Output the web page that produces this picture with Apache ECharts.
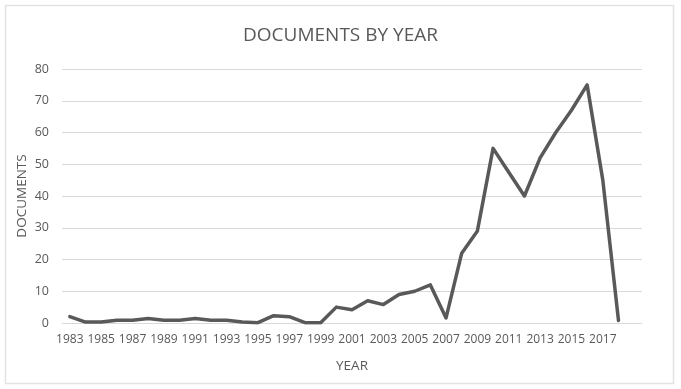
<!DOCTYPE html>
<html>
<head>
<meta charset="utf-8">
<script src="https://cdn.jsdelivr.net/npm/echarts@6/dist/echarts.min.js"></script>
<style>
html,body{margin:0;padding:0;background:#fff;}
#c{width:681px;height:389px;}
</style>
</head>
<body>
<div id="c"></div>
<script>
var years = ['1983','1984','1985','1986','1987','1988','1989','1990','1991','1992','1993','1994','1995','1996','1997','1998','1999','2000','2001','2002','2003','2004','2005','2006','2007','2008','2009','2010','2011','2012','2013','2014','2015','2016','2017','2018','2019'];
var documents = [2,0.3,0.3,0.9,0.9,1.4,0.9,0.9,1.4,0.9,0.9,0.3,0.1,2.3,2,0.1,0.1,5,4.2,7,5.8,9,10,12,1.6,22,29,55,47.5,40,52,60,67,75,45,0.8,null];
var yTicks = {min:0, max:80, interval:10};

var chart = echarts.init(document.getElementById('c'), null, {renderer:'canvas'});
var font = '"Open Sans", sans-serif';
chart.setOption({
  animation:false,
  title:{text:'DOCUMENTS BY YEAR', left:'center', top:21,
    textStyle:{fontFamily:font, fontSize:19, fontWeight:'normal', color:'#595959'}},
  graphic:[{type:'rect', shape:{x:5.5,y:5.5,width:668,height:378},
    style:{fill:'none', stroke:'#e3e3e3', lineWidth:1.5}, silent:true}],
  grid:{left:62, right:39, top:69, bottom:66},
  xAxis:{type:'category', data:years, boundaryGap:true,
    name:'YEAR', nameLocation:'middle', nameGap:36, nameMoveOverlap:false,
    nameTextStyle:{fontFamily:font, fontSize:13.5, color:'#595959'},
    axisLine:{show:true, lineStyle:{color:'#d9d9d9', width:1}},
    axisTick:{show:false},
    axisLabel:{interval:function(i){return i%2===0 && i<36;}, fontFamily:font, fontSize:12, color:'#595959', margin:11}},
  yAxis:{type:'value', min:yTicks.min, max:yTicks.max, interval:yTicks.interval,
    name:'DOCUMENTS', nameLocation:'middle', nameGap:33, nameRotate:90, nameMoveOverlap:false,
    nameTextStyle:{fontFamily:font, fontSize:13.5, color:'#595959'},
    axisLine:{show:false}, axisTick:{show:false},
    axisLabel:{fontFamily:font, fontSize:12.5, color:'#595959', margin:13},
    splitLine:{lineStyle:{color:'#d9d9d9', width:1}}},
  series:[{type:'line', data:documents, showSymbol:false, symbol:'none',
    lineStyle:{color:'#595959', width:3.5, cap:'round', join:'round'}, connectNulls:false}]
});
</script>
</body>
</html>
